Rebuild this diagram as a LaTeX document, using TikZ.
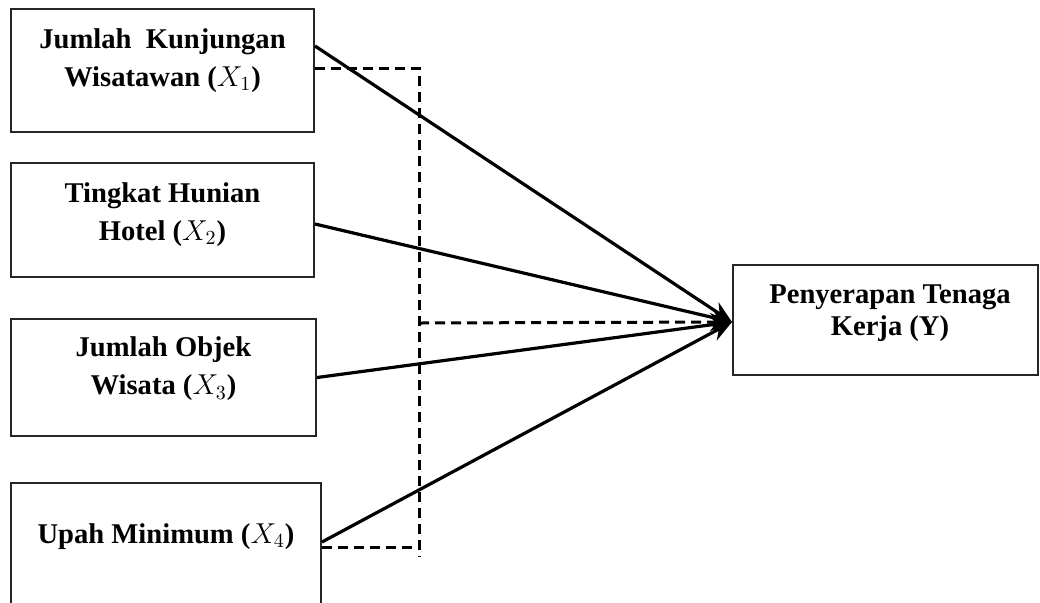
\documentclass[tikz,border=0pt]{standalone}
\usepackage{fontspec}
\setmainfont{Liberation Serif}
\usetikzlibrary{calc,positioning,arrows.meta}
\tikzset{
varbox/.style={draw=black!85, line width=1pt, inner sep=0pt}, % the variable boxes
vartext/.style={align=center, font=\bfseries\fontsize{14.3}{19}\selectfont}, % text in the boxes
effect/.style={line width=1.6pt, -{Stealth[length=11pt,width=9pt]}}, % solid arrows
joint/.style={line width=1.5pt, dash pattern=on 5pt off 3pt}, % dashed lines
}

\begin{document}
\begin{tikzpicture}[x=0.5pt,y=0.5pt,yscale=-1,xscale=1]
\useasboundingbox (0,0) rectangle (1040,602);
\clip (0,0) rectangle (1040,602);
%Boxes
\node [varbox, minimum width=151.5pt, minimum height=61.5pt] (x1) at (162.5,70.5) {};
\node [varbox, minimum width=151.5pt, minimum height=57pt] (x2) at (162.5,220) {};
\node [varbox, minimum width=152.5pt, minimum height=58.5pt] (x3) at (163.5,377.5) {};
\node [varbox, minimum width=155pt, minimum height=68.5pt] (x4) at (166,551.5) {};
\node [varbox, minimum width=152.5pt, minimum height=55pt] (pty) at (885.5,320) {};
%Texts
\node [vartext] at ($(x1.center)+(0,-10)$) {Jumlah\ \ Kunjungan\\Wisatawan ($X_1$)};
\node [vartext] at ($(x2.center)+(0,-5.5)$) {Tingkat Hunian\\Hotel ($X_2$)};
\node [vartext] at ($(x3.center)+(0,-8.5)$) {Jumlah Objek\\Wisata ($X_3$)};
\node [vartext] at ($(x4.center)+(0,-15)$) {Upah Minimum ($X_4$)};
\node [vartext, font=\bfseries\fontsize{14.3}{16}\selectfont] at ($(pty.center)+(4.5,-6.5)$) {Penyerapan Tenaga\\Kerja (Y)};
%Straight Lines
\draw [effect] ($(x1.east)+(0,-24.5)$) -- ($(pty.west)+(0,2)$);
\draw [effect] ($(x2.east)+(0,4)$) -- ($(pty.west)+(0,2)$);
\draw [effect] (x3.east) -- ($(pty.west)+(0,2)$);
\draw [effect] ($(x4.east)+(0,-9.5)$) -- ($(pty.west)+(0,2)$);
%Dashed Lines
\coordinate (dtop) at (419,68);
\coordinate (dbot) at (419,557);
\coordinate (dmid) at (419,323);
\draw [joint] ($(x1.east)+(0,-2.5)$) -- (dtop) -- (dbot);
\draw [joint] ($(x4.east)+(0,-4.5)$) coordinate (d4) -- (d4 -| dtop);
\draw [joint, -{Stealth[length=11pt,width=9pt]}] (dmid) -- ($(pty.west)+(0,2)$);
\end{tikzpicture}
\end{document}
